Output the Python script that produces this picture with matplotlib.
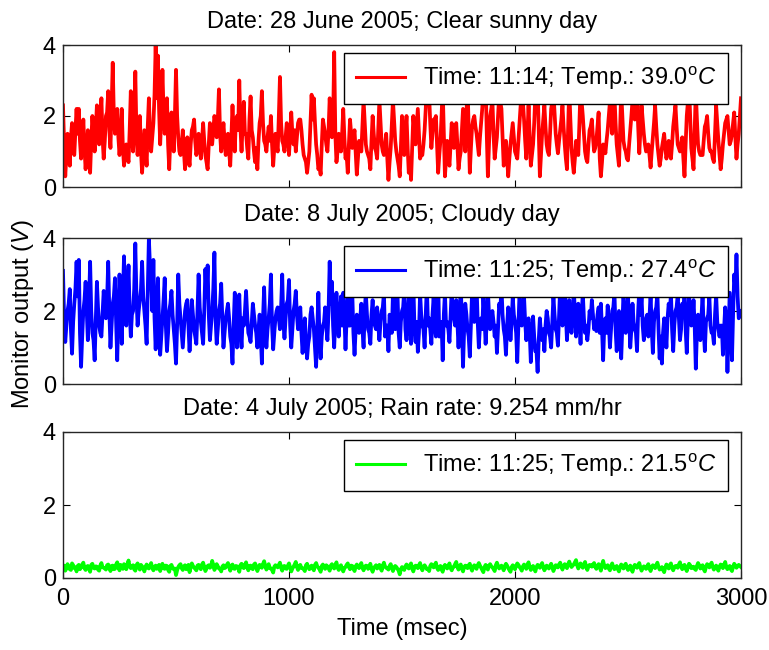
import matplotlib
matplotlib.use("Agg")
import matplotlib.pyplot as plt

# Monitor samples: main readings every 10 ms, plus the in-between readings at 5 ms offsets
time_ms = list(range(0, 3001, 10))
mid_time_ms = list(range(5, 3000, 10))

sunny_v = [
    2.3, 0.3, 1.5, 0.6, 1.8, 0.9, 2.2, 2.2, 0.8, 1.9,
    0.5, 1.6, 0.4, 2.0, 1.0, 2.3, 1.2, 2.5, 0.8, 2.0,
    2.7, 1.1, 3.5, 1.5, 2.2, 0.9, 2.2, 0.6, 1.2, 0.7,
    2.7, 1.0, 3.25, 0.9, 2.0, 0.4, 1.6, 0.6, 2.5, 1.0,
    1.8, 4.0, 3.7, 1.2, 3.3, 1.5, 2.5, 0.5, 2.1, 1.0,
    3.3, 1.4, 0.9, 1.6, 0.5, 1.4, 0.6, 1.6, 1.9, 0.9,
    1.5, 0.8, 1.8, 0.9, 0.5, 1.8, 1.2, 2.0, 1.4, 2.75,
    1.0, 1.8, 0.9, 1.5, 0.6, 2.3, 1.0, 2.0, 3.0, 1.0,
    2.4, 1.5, 0.8, 2.55, 1.4, 0.7, 0.5, 1.8, 2.7, 1.3,
    1.0, 1.7, 2.0, 0.6, 1.5, 1.0, 3.1, 1.3, 1.0, 1.8,
    0.9, 2.1, 1.2, 1.0, 1.8, 1.9, 1.2, 0.8, 0.4, 1.0,
    2.6, 2.5, 1.2, 0.5, 0.35, 1.9, 1.5, 1.0, 2.5, 1.4,
    3.8, 0.7, 1.5, 1.0, 2.2, 0.8, 0.4, 1.9, 1.1, 1.6,
    0.35, 1.3, 1.0, 2.45, 1.2, 0.9, 0.5, 2.0, 1.1, 0.8,
    2.45, 1.2, 0.9, 1.5, 0.2, 1.1, 2.45, 1.3, 0.8, 0.3,
    2.0, 0.9, 2.0, 0.4, 0.2, 2.0, 1.2, 2.2, 0.8, 0.9,
    1.6, 2.9, 2.6, 1.1, 1.9, 2.0, 0.4, 1.3, 2.8, 0.3,
    1.3, 0.6, 1.8, 1.1, 1.8, 0.5, 1.0, 2.2, 1.0, 2.9,
    0.4, 1.7, 2.0, 1.5, 0.9, 1.8, 2.7, 3.0, 0.3, 2.0,
    2.45, 0.8, 1.4, 2.6, 2.2, 0.6, 1.3, 0.3, 1.2, 1.8,
    1.0, 0.8, 1.8, 2.9, 1.9, 0.8, 2.3, 0.6, 1.2, 2.6,
    2.9, 0.3, 1.5, 2.3, 1.2, 0.9, 2.2, 2.7, 1.5, 0.95,
    1.6, 2.3, 1.2, 0.5, 2.8, 1.1, 0.4, 1.3, 0.9, 2.8,
    2.0, 1.0, 0.7, 1.6, 1.9, 1.0, 1.3, 2.1, 0.3, 1.2,
    0.95, 1.6, 2.4, 1.5, 2.6, 1.2, 0.6, 2.7, 1.3, 1.0,
    0.75, 1.6, 2.45, 1.9, 2.6, 0.95, 2.3, 1.5, 1.0, 1.2,
    0.55, 1.4, 2.3, 1.2, 0.6, 1.1, 1.5, 0.8, 1.3, 0.8,
    1.7, 2.3, 1.2, 1.0, 1.4, 0.3, 2.0, 2.9, 1.1, 0.5,
    2.7, 1.2, 0.9, 0.9, 1.7, 2.0, 1.1, 1.0, 0.7, 2.3,
    1.3, 0.5, 1.2, 1.8, 2.0, 1.2, 1.5, 2.1, 0.8, 1.5,
    2.5,
]
sunny_mid_v = [
    1.2, 0.9, 1.1, 1.4, 1.0, 1.6, 1.5, 1.3, 1.2, 1.1,
    1.0, 0.9, 1.3, 1.5, 1.6, 1.8, 1.9, 1.4, 1.3, 2.1,
    1.6, 2.2, 2.0, 1.7, 1.4, 1.3, 1.1, 0.9, 0.9, 1.6,
    1.5, 2.0, 1.5, 1.4, 1.0, 1.0, 1.1, 1.7, 1.5, 1.4,
    2.6, 2.5, 2.2, 2.0, 2.1, 1.8, 1.2, 1.4, 1.6, 2.0,
    2.0, 1.0, 1.2, 1.0, 0.9, 0.9, 1.2, 1.7, 1.3, 1.1,
    1.2, 1.3, 1.3, 0.7, 1.2, 1.5, 1.6, 1.8, 1.9, 1.5,
    1.4, 1.3, 1.2, 1.0, 1.4, 1.5, 1.9, 1.6, 1.7, 1.8,
    1.5, 1.1, 1.9, 1.6, 1.0, 1.1, 1.3, 2.0, 1.8, 1.2,
    1.4, 1.3, 1.2, 1.1, 1.2, 2.0, 1.8, 1.2, 1.4, 1.5,
    1.5, 1.5, 1.6, 1.4, 1.9, 1.6, 0.9, 0.7, 0.7, 1.8,
    1.9, 1.8, 0.9, 0.6, 1.2, 1.7, 1.2, 1.6, 1.9, 1.8,
    1.5, 1.0, 1.2, 1.5, 1.4, 0.9, 1.2, 1.5, 1.4, 1.0,
    0.8, 1.2, 1.7, 1.8, 1.0, 0.8, 1.3, 1.5, 1.0, 1.6,
    1.8, 1.0, 1.2, 0.8, 0.7, 1.8, 1.9, 1.0, 0.6, 1.1,
    1.4, 1.5, 1.1, 0.8, 1.1, 1.6, 1.7, 1.5, 0.9, 1.2,
    2.2, 2.7, 1.8, 1.5, 1.9, 1.2, 0.9, 2.0, 1.5, 0.8,
    0.9, 1.2, 1.4, 1.5, 1.2, 0.8, 1.6, 1.6, 2.0, 1.6,
    1.1, 1.9, 1.7, 1.2, 1.4, 2.2, 2.8, 1.5, 1.2, 2.2,
    1.5, 1.1, 2.0, 2.4, 1.4, 0.9, 0.8, 0.8, 1.5, 1.4,
    0.9, 1.3, 2.3, 2.4, 1.3, 1.5, 1.4, 0.9, 1.8, 2.7,
    1.6, 0.9, 1.9, 1.7, 1.0, 1.5, 2.4, 2.1, 1.2, 1.3,
    1.9, 1.7, 0.8, 1.6, 1.9, 0.7, 0.8, 1.1, 1.8, 2.4,
    1.5, 0.8, 1.2, 1.7, 1.4, 1.1, 1.7, 0.8, 0.7, 1.1,
    1.3, 2.0, 2.0, 2.0, 1.8, 0.9, 1.6, 2.0, 1.1, 0.8,
    1.2, 2.0, 2.2, 2.2, 1.7, 1.6, 1.9, 1.2, 1.1, 0.9,
    1.0, 1.8, 1.7, 0.9, 0.8, 1.3, 1.1, 1.0, 1.0, 1.2,
    2.0, 1.7, 1.1, 1.2, 0.8, 1.2, 2.4, 2.0, 0.8, 1.6,
    1.9, 1.0, 0.9, 1.3, 1.8, 1.5, 1.0, 0.8, 1.5, 1.8,
    0.9, 0.8, 1.5, 1.9, 1.6, 1.3, 1.8, 1.4, 1.2, 2.0,
]

cloudy_v = [
    3.1, 1.15, 2.0, 2.6, 0.83, 2.2, 3.35, 3.4, 0.47, 2.0,
    2.8, 1.2, 3.35, 1.4, 0.65, 2.8, 1.6, 1.3, 2.55, 1.8,
    3.35, 1.0, 2.2, 2.9, 0.65, 3.0, 1.1, 3.5, 1.6, 3.25,
    1.3, 2.0, 3.85, 1.6, 2.3, 3.35, 2.0, 1.1, 4.0, 2.9,
    3.4, 0.95, 2.9, 0.8, 1.8, 2.9, 0.9, 2.0, 2.55, 1.5,
    0.56, 3.0, 1.8, 1.0, 2.0, 2.3, 0.9, 2.3, 1.5, 1.1,
    3.0, 1.7, 1.1, 3.15, 3.25, 1.2, 2.0, 3.6, 1.1, 2.0,
    2.75, 1.0, 1.8, 2.2, 1.3, 0.56, 2.5, 1.0, 2.45, 1.0,
    1.6, 2.55, 1.4, 1.15, 2.2, 1.6, 1.0, 1.9, 0.56, 2.65,
    1.0, 1.8, 3.0, 0.95, 1.8, 2.1, 1.5, 3.0, 1.25, 2.2,
    2.85, 1.0, 2.0, 2.55, 1.5, 2.1, 0.85, 1.8, 0.7, 1.3,
    2.1, 1.5, 0.47, 2.5, 0.7, 1.6, 2.1, 1.2, 3.35, 2.8,
    1.0, 2.5, 1.3, 2.4, 2.5, 0.95, 2.5, 1.6, 2.5, 0.8,
    1.9, 1.4, 2.2, 1.0, 2.5, 1.5, 1.1, 2.3, 1.6, 2.1,
    1.2, 2.0, 2.5, 1.6, 0.9, 1.8, 2.5, 1.5, 2.5, 1.0,
    2.0, 2.6, 1.2, 2.4, 1.1, 2.8, 1.15, 0.88, 2.5, 1.6,
    1.0, 2.7, 1.8, 1.1, 2.4, 1.3, 2.9, 1.6, 0.65, 2.5,
    1.7, 1.15, 2.6, 1.8, 2.3, 1.0, 2.8, 0.47, 2.2, 1.5,
    0.75, 2.5, 1.7, 2.7, 1.0, 1.8, 2.4, 1.1, 2.6, 1.5,
    2.0, 1.3, 0.85, 2.2, 2.7, 1.5, 0.8, 2.1, 1.2, 2.4,
    1.7, 0.6, 2.5, 1.6, 2.4, 1.2, 1.8, 0.6, 1.85, 0.9,
    0.33, 1.8, 1.2, 0.9, 2.0, 1.4, 1.0, 2.4, 1.5, 1.05,
    2.7, 1.6, 2.9, 1.2, 2.3, 1.4, 2.6, 1.3, 2.2, 1.1,
    2.5, 1.4, 1.2, 2.0, 2.3, 1.5, 1.45, 2.1, 2.2, 0.65,
    1.8, 2.15, 1.0, 2.0, 2.5, 0.9, 2.0, 0.7, 2.5, 1.4,
    2.4, 1.0, 2.2, 1.5, 0.9, 2.6, 2.4, 1.2, 1.8, 1.3,
    2.5, 0.85, 2.0, 2.5, 0.7, 0.56, 1.8, 1.0, 2.2, 2.5,
    0.9, 2.0, 2.45, 1.2, 2.2, 2.5, 0.85, 2.5, 1.6, 2.3,
    0.42, 1.9, 1.2, 2.45, 0.9, 1.8, 2.4, 1.4, 1.1, 2.45,
    1.5, 1.6, 0.8, 2.1, 0.33, 2.5, 0.65, 3.0, 3.55, 1.8,
    2.0,
]
cloudy_mid_v = [
    1.8, 1.6, 2.2, 1.5, 1.7, 2.6, 2.4, 1.4, 1.3, 2.3,
    2.0, 2.2, 2.0, 1.2, 1.7, 2.1, 1.4, 1.9, 2.1, 2.3,
    2.0, 1.6, 2.4, 1.7, 1.9, 2.0, 2.4, 2.2, 2.5, 2.0,
    1.9, 2.6, 2.4, 2.0, 2.6, 2.4, 1.6, 2.5, 3.2, 2.0,
    1.8, 1.9, 1.7, 1.3, 2.3, 1.6, 1.4, 2.2, 1.9, 1.1,
    1.6, 2.2, 1.4, 1.5, 2.2, 1.6, 1.5, 1.9, 1.3, 2.0,
    2.1, 1.4, 2.0, 2.4, 1.9, 1.6, 2.6, 1.8, 1.5, 2.2,
    1.8, 1.4, 2.0, 1.8, 1.1, 1.6, 1.8, 1.7, 1.5, 1.8,
    2.0, 1.9, 1.3, 1.7, 1.9, 1.4, 1.5, 1.3, 1.8, 1.6,
    1.5, 2.2, 1.6, 1.4, 2.0, 1.8, 2.1, 1.7, 1.8, 2.3,
    1.6, 1.5, 2.2, 1.9, 1.8, 1.4, 1.4, 1.2, 1.1, 1.9,
    1.8, 1.0, 1.5, 1.2, 1.3, 1.7, 1.6, 2.0, 2.2, 1.6,
    1.8, 1.7, 1.9, 1.6, 1.9, 1.8, 1.6, 1.9, 1.4, 1.5,
    1.6, 1.8, 1.5, 2.0, 1.9, 1.4, 1.9, 1.7, 1.5, 1.6,
    1.7, 2.1, 1.3, 1.6, 1.9, 1.4, 1.7, 2.0, 1.4, 1.7,
    2.1, 1.5, 1.8, 1.6, 1.9, 1.6, 1.7, 1.4, 1.9, 1.5,
    1.9, 1.6, 1.5, 1.9, 1.6, 2.1, 1.3, 1.7, 1.9, 1.6,
    1.5, 1.9, 2.0, 1.6, 1.7, 1.8, 1.6, 1.5, 1.9, 1.3,
    1.6, 2.0, 1.9, 1.7, 1.6, 1.5, 1.8, 1.7, 1.9, 1.8,
    1.7, 1.6, 1.5, 2.0, 1.9, 1.3, 1.6, 1.9, 1.7, 1.9,
    1.4, 1.6, 1.9, 2.0, 1.7, 1.6, 1.4, 1.4, 1.3, 0.9,
    1.2, 1.4, 1.5, 1.6, 1.8, 1.3, 1.7, 1.9, 1.4, 1.9,
    2.0, 2.2, 1.9, 1.8, 1.7, 1.9, 2.0, 1.8, 1.7, 1.9,
    1.8, 1.6, 1.5, 1.8, 1.9, 1.7, 1.9, 1.4, 1.5, 1.6,
    1.4, 1.7, 1.5, 2.1, 1.5, 1.6, 1.4, 1.6, 1.8, 1.9,
    1.8, 1.5, 1.7, 1.4, 2.0, 1.9, 1.6, 1.5, 1.9, 1.8,
    1.5, 1.7, 2.1, 1.5, 1.3, 1.4, 1.6, 1.8, 1.9, 1.5,
    1.6, 2.1, 1.8, 1.5, 1.9, 1.5, 1.8, 1.9, 1.7, 1.6,
    1.4, 1.6, 1.8, 1.5, 1.7, 1.9, 1.6, 1.4, 1.9, 1.7,
    1.3, 1.6, 1.5, 1.7, 1.4, 1.6, 1.9, 2.6, 2.4, 1.9,
]

rain_v = [
    0.30, 0.20, 0.38, 0.24, 0.40, 0.27, 0.18, 0.36, 0.29, 0.42,
    0.22, 0.33, 0.17, 0.39, 0.26, 0.31, 0.20, 0.41, 0.28, 0.23,
    0.37, 0.19, 0.34, 0.25, 0.43, 0.21, 0.30, 0.38, 0.24, 0.48,
    0.27, 0.35, 0.20, 0.40, 0.23, 0.32, 0.18, 0.37, 0.26, 0.41,
    0.21, 0.34, 0.28, 0.19, 0.39, 0.25, 0.33, 0.17, 0.36, 0.24,
    0.08, 0.30, 0.38, 0.22, 0.35, 0.27, 0.16, 0.40, 0.29, 0.21,
    0.36, 0.24, 0.42, 0.19, 0.33, 0.28, 0.47, 0.22, 0.38, 0.26,
    0.18, 0.35, 0.29, 0.41, 0.20, 0.37, 0.25, 0.32, 0.17, 0.39,
    0.27, 0.43, 0.21, 0.34, 0.24, 0.40, 0.19, 0.36, 0.28, 0.46,
    0.23, 0.38, 0.26, 0.15, 0.35, 0.29, 0.42, 0.20, 0.33, 0.25,
    0.40, 0.18, 0.31, 0.44, 0.22, 0.36, 0.27, 0.19, 0.39, 0.24,
    0.34, 0.21, 0.41, 0.28, 0.17, 0.37, 0.25, 0.32, 0.20, 0.38,
    0.26, 0.43, 0.22, 0.35, 0.18, 0.30, 0.40, 0.24, 0.33, 0.19,
    0.37, 0.27, 0.41, 0.21, 0.34, 0.25, 0.39, 0.17, 0.31, 0.26,
    0.36, 0.20, 0.42, 0.28, 0.23, 0.38, 0.19, 0.33, 0.25, 0.10,
    0.30, 0.22, 0.37, 0.26, 0.40, 0.18, 0.34, 0.27, 0.41, 0.21,
    0.35, 0.24, 0.19, 0.38, 0.29, 0.42, 0.22, 0.33, 0.17, 0.36,
    0.26, 0.40, 0.21, 0.31, 0.44, 0.23, 0.37, 0.18, 0.34, 0.27,
    0.39, 0.20, 0.35, 0.25, 0.41, 0.28, 0.16, 0.36, 0.23, 0.38,
    0.29, 0.19, 0.42, 0.26, 0.34, 0.21, 0.39, 0.27, 0.17, 0.35,
    0.24, 0.40, 0.30, 0.20, 0.37, 0.25, 0.43, 0.22, 0.33, 0.18,
    0.36, 0.28, 0.41, 0.21, 0.34, 0.26, 0.39, 0.19, 0.35, 0.29,
    0.42, 0.23, 0.38, 0.27, 0.45, 0.30, 0.37, 0.49, 0.26, 0.40,
    0.28, 0.44, 0.22, 0.36, 0.31, 0.41, 0.25, 0.38, 0.20, 0.47,
    0.27, 0.35, 0.21, 0.40, 0.24, 0.33, 0.18, 0.37, 0.26, 0.39,
    0.22, 0.34, 0.17, 0.36, 0.28, 0.41, 0.20, 0.32, 0.25, 0.38,
    0.19, 0.35, 0.27, 0.42, 0.23, 0.30, 0.16, 0.37, 0.26, 0.40,
    0.21, 0.33, 0.28, 0.43, 0.24, 0.36, 0.19, 0.39, 0.27, 0.31,
    0.22, 0.41, 0.26, 0.35, 0.18, 0.38, 0.29, 0.42, 0.23, 0.34,
    0.20, 0.37, 0.27, 0.44, 0.24, 0.33, 0.19, 0.39, 0.28, 0.36,
    0.30,
]
rain_mid_v = [
    0.34, 0.26, 0.31, 0.22, 0.35, 0.29, 0.33, 0.24, 0.37, 0.27,
    0.31, 0.25, 0.36, 0.28, 0.32, 0.23, 0.34, 0.30, 0.26, 0.35,
    0.28, 0.33, 0.24, 0.37, 0.29, 0.36, 0.25, 0.32, 0.38, 0.31,
    0.33, 0.24, 0.35, 0.29, 0.36, 0.26, 0.31, 0.28, 0.34, 0.27,
    0.30, 0.25, 0.36, 0.31, 0.27, 0.34, 0.22, 0.33, 0.28, 0.26,
    0.21, 0.35, 0.27, 0.32, 0.24, 0.36, 0.29, 0.33, 0.25, 0.34,
    0.28, 0.37, 0.30, 0.26, 0.35, 0.31, 0.36, 0.29, 0.32, 0.25,
    0.31, 0.27, 0.36, 0.30, 0.34, 0.26, 0.33, 0.28, 0.35, 0.30,
    0.36, 0.29, 0.33, 0.27, 0.37, 0.31, 0.28, 0.34, 0.38, 0.33,
    0.30, 0.27, 0.22, 0.31, 0.33, 0.36, 0.28, 0.32, 0.26, 0.34,
    0.29, 0.26, 0.37, 0.30, 0.33, 0.27, 0.24, 0.35, 0.29, 0.31,
    0.26, 0.36, 0.32, 0.24, 0.33, 0.29, 0.35, 0.27, 0.34, 0.30,
    0.36, 0.28, 0.31, 0.25, 0.27, 0.36, 0.30, 0.34, 0.26, 0.32,
    0.31, 0.35, 0.28, 0.30, 0.33, 0.32, 0.25, 0.28, 0.35, 0.30,
    0.27, 0.34, 0.31, 0.26, 0.33, 0.29, 0.28, 0.30, 0.20, 0.24,
    0.27, 0.32, 0.30, 0.35, 0.26, 0.29, 0.33, 0.35, 0.28, 0.31,
    0.30, 0.25, 0.33, 0.34, 0.36, 0.28, 0.29, 0.24, 0.31, 0.30,
    0.34, 0.27, 0.29, 0.38, 0.30, 0.32, 0.26, 0.30, 0.33, 0.35,
    0.27, 0.31, 0.29, 0.35, 0.34, 0.22, 0.30, 0.31, 0.34, 0.32,
    0.25, 0.35, 0.33, 0.30, 0.28, 0.33, 0.34, 0.22, 0.30, 0.31,
    0.33, 0.36, 0.26, 0.32, 0.31, 0.37, 0.30, 0.28, 0.25, 0.30,
    0.34, 0.35, 0.30, 0.27, 0.31, 0.33, 0.29, 0.27, 0.34, 0.37,
    0.31, 0.33, 0.32, 0.38, 0.36, 0.34, 0.43, 0.35, 0.34, 0.33,
    0.38, 0.30, 0.31, 0.35, 0.37, 0.30, 0.33, 0.29, 0.36, 0.34,
    0.31, 0.26, 0.33, 0.30, 0.28, 0.24, 0.30, 0.32, 0.35, 0.28,
    0.29, 0.24, 0.30, 0.33, 0.36, 0.29, 0.27, 0.30, 0.33, 0.26,
    0.30, 0.32, 0.36, 0.31, 0.26, 0.22, 0.29, 0.34, 0.35, 0.27,
    0.29, 0.33, 0.37, 0.31, 0.32, 0.26, 0.30, 0.35, 0.28, 0.25,
    0.33, 0.35, 0.31, 0.24, 0.30, 0.35, 0.37, 0.30, 0.29, 0.26,
    0.31, 0.35, 0.36, 0.30, 0.29, 0.24, 0.31, 0.34, 0.32, 0.33,
]

panel_titles = [
    "Date: 28 June 2005; Clear sunny day",
    "Date: 8 July 2005; Cloudy day",
    "Date: 4 July 2005; Rain rate: 9.254 mm/hr",
]
legend_labels = [
    r"Time: 11:14; Temp.: 39.0$^{\mathrm{o}}$$\mathit{C}$",
    r"Time: 11:25; Temp.: 27.4$^{\mathrm{o}}$$\mathit{C}$",
    r"Time: 11:25; Temp.: 21.5$^{\mathrm{o}}$$\mathit{C}$",
]
colors = ["#ff0000", "#0000ff", "#00ff00"]
x_ticks = [0, 1000, 2000, 3000]
y_ticks = [0, 2, 4]


def merge(main_v, mid_v):
    """Weave the 10 ms readings and the 5 ms-offset readings into one time series."""
    assert len(main_v) == len(time_ms) and len(mid_v) == len(mid_time_ms)
    xs, ys = [], []
    for k, v in enumerate(main_v):
        xs.append(time_ms[k])
        ys.append(v)
        if k < len(mid_v):
            xs.append(mid_time_ms[k])
            ys.append(mid_v[k])
    return xs, ys


series = [merge(sunny_v, sunny_mid_v), merge(cloudy_v, cloudy_mid_v),
          merge(rain_v, rain_mid_v)]

FONT = "Liberation Sans"
plt.rcParams["font.family"] = FONT
plt.rcParams["mathtext.fontset"] = "custom"
plt.rcParams["mathtext.rm"] = FONT
plt.rcParams["mathtext.it"] = FONT + ":italic"
FS = 17

W, H = 769, 650
fig = plt.figure(figsize=(W / 100, H / 100), dpi=100)

left, right = 63 / W, 741 / W
panel_px = [(45, 187), (238, 384), (432, 578)]

axes = []
for i, (top_px, bot_px) in enumerate(panel_px):
    ax = fig.add_axes([left, 1 - bot_px / H, right - left, (bot_px - top_px) / H])
    xs, ys = series[i]
    ax.plot(xs, ys, color=colors[i], lw=2.7, label=legend_labels[i])
    ax.set_xlim(0, 3000)
    ax.set_ylim(0, 4)
    ax.set_xticks(x_ticks)
    ax.set_yticks(y_ticks)
    ax.tick_params(direction="in", top=True, right=True, length=5, width=0.8,
                   labelsize=FS, colors="black")
    ax.tick_params(axis="x", pad=7)
    ax.tick_params(axis="y", pad=5)
    if i < 2:
        ax.tick_params(labelbottom=False)
    for s in ax.spines.values():
        s.set_color("#262626")
        s.set_linewidth(1.0)
    ax.set_title(panel_titles[i], fontsize=FS, pad=12)
    leg = ax.legend(loc="upper right", bbox_to_anchor=(0.981, 0.944),
                    borderaxespad=0, fontsize=FS, fancybox=False, framealpha=1,
                    edgecolor="black", handlelength=2.1, handletextpad=0.75,
                    borderpad=0.5)
    leg.get_frame().set_linewidth(1.0)
    leg.get_lines()[0].set_linewidth(2.2)
    axes.append(ax)

axes[2].set_xlabel("Time (msec)", fontsize=FS, labelpad=6)
fig.text(23 / W, 1 - 314 / H, r"Monitor output ($\mathit{V}$)", rotation=90,
         ha="center", va="center", fontsize=FS)

fig.savefig("out.png", dpi=100)
